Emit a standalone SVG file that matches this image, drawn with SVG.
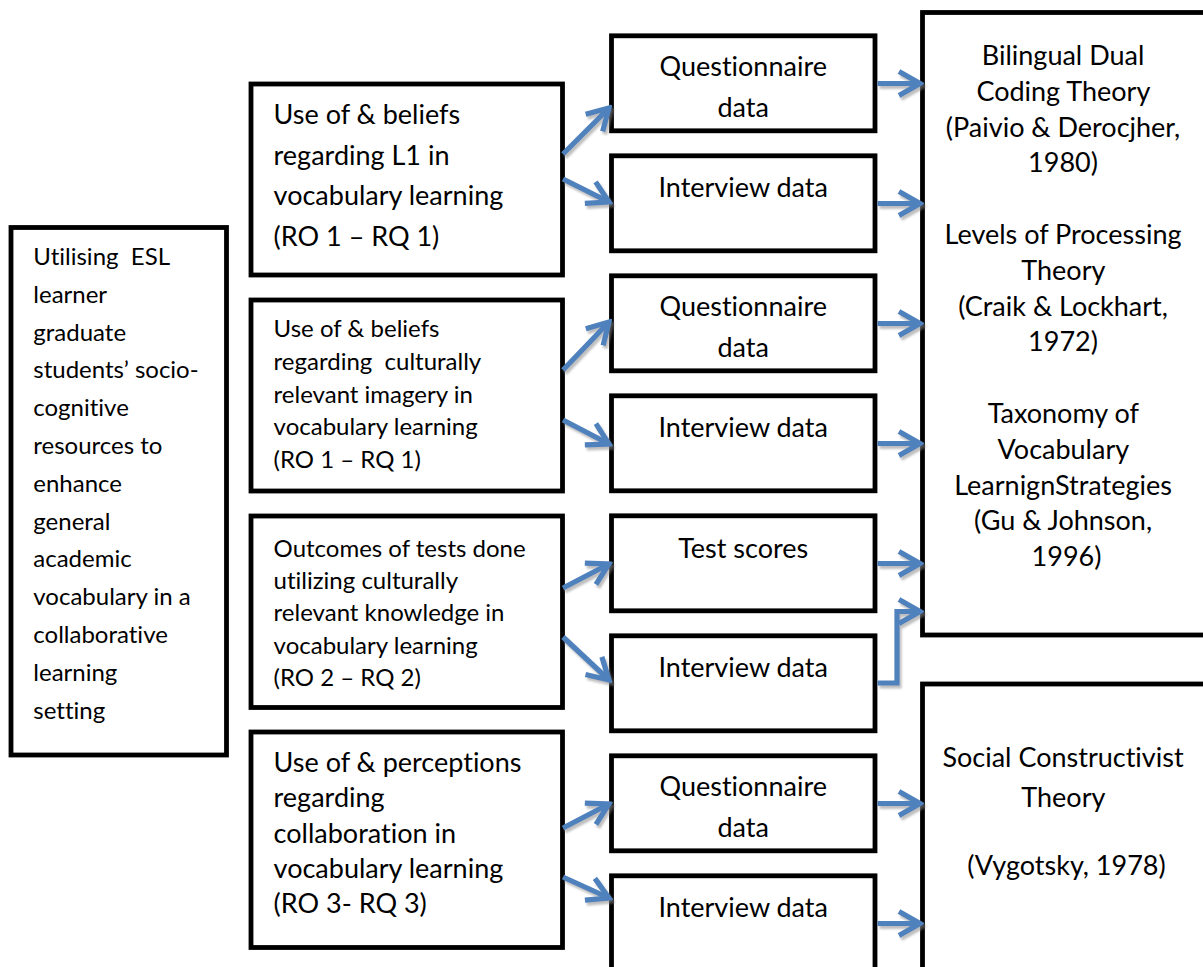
<svg xmlns="http://www.w3.org/2000/svg" width="1203" height="967" viewBox="0 0 1203 967">
<style>
.box{fill:#fff;stroke:#000;stroke-width:4.8}
.t{font-family:Lato,"Liberation Sans",sans-serif;fill:#000;font-variant-ligatures:none}
.f24{font-size:24px}
.f27{font-size:27px}
.c{text-anchor:middle}
.arr{fill:none;stroke:#4F81BD;stroke-width:5.2;marker-end:url(#ah)}
</style>
<defs>
<marker id="ah" viewBox="-26 -16 30 32" markerWidth="30" markerHeight="32" refX="0" refY="0" orient="auto" markerUnits="userSpaceOnUse">
<path d="M-21,-12 L0,0 L-21,12" fill="none" stroke="#4F81BD" stroke-width="5.2" stroke-linejoin="miter"/>
</marker>
<filter id="sh" x="-20%" y="-20%" width="140%" height="140%">
<feDropShadow dx="2" dy="3" stdDeviation="0.8" flood-color="#888" flood-opacity="0.55"/>
</filter>
</defs>
<rect width="1203" height="967" fill="#fff"/>

<g id="goal">
<rect class="box" x="11" y="227.5" width="215.5" height="527.5"/>
<text class="t f24" x="33.3">
<tspan x="33.3" y="265">Utilising&#160; ESL</tspan>
<tspan x="33.3" y="302.8">learner</tspan>
<tspan x="33.3" y="340.6">graduate</tspan>
<tspan x="33.3" y="378.4">students’ socio-</tspan>
<tspan x="33.3" y="416.2">cognitive</tspan>
<tspan x="33.3" y="454">resources to</tspan>
<tspan x="33.3" y="491.8">enhance</tspan>
<tspan x="33.3" y="529.6">general</tspan>
<tspan x="33.3" y="567.4">academic</tspan>
<tspan x="33.3" y="605.2">vocabulary in a</tspan>
<tspan x="33.3" y="643">collaborative</tspan>
<tspan x="33.3" y="680.8">learning</tspan>
<tspan x="33.3" y="718.6">setting</tspan>
</text>
</g>

<g id="ro1a">
<rect class="box" x="251" y="84" width="311.5" height="191"/>
<text class="t f27">
<tspan x="273.6" y="124">Use of &amp; beliefs</tspan>
<tspan x="273.6" y="164.7">regarding L1 in</tspan>
<tspan x="273.6" y="205.4">vocabulary learning</tspan>
<tspan x="273.6" y="246">(RO 1 – RQ 1)</tspan>
</text>
</g>

<g id="ro1b">
<rect class="box" x="251" y="300" width="311.5" height="191"/>
<text class="t f24">
<tspan x="273.6" y="337.3">Use of &amp; beliefs</tspan>
<tspan x="273.6" y="370">regarding&#160; culturally</tspan>
<tspan x="273.6" y="402.7">relevant imagery in</tspan>
<tspan x="273.6" y="435.4">vocabulary learning</tspan>
<tspan x="273.6" y="468">(RO 1 – RQ 1)</tspan>
</text>
</g>

<g id="ro2">
<rect class="box" x="251" y="516" width="311.5" height="191.5"/>
<text class="t f24">
<tspan x="273.6" y="556.7">Outcomes of tests done</tspan>
<tspan x="273.6" y="589">utilizing culturally</tspan>
<tspan x="273.6" y="621.3">relevant knowledge in</tspan>
<tspan x="273.6" y="653.6">vocabulary learning</tspan>
<tspan x="273.6" y="686">(RO 2 – RQ 2)</tspan>
</text>
</g>

<g id="ro3">
<rect class="box" x="251" y="732" width="311.5" height="215.5"/>
<text class="t f27">
<tspan x="273.6" y="771.7">Use of &amp; perceptions</tspan>
<tspan x="273.6" y="807.1">regarding</tspan>
<tspan x="273.6" y="842.5">collaboration in</tspan>
<tspan x="273.6" y="877.9">vocabulary learning</tspan>
<tspan x="273.6" y="913.3">(RO 3- RQ 3)</tspan>
</text>
</g>

<g id="q1">
<rect class="box" x="611.5" y="35.8" width="263.5" height="95"/>
<text class="t f27 c"><tspan x="743.2" y="76.3">Questionnaire</tspan><tspan x="743.2" y="116.8">data</tspan></text>
</g>
<g id="i1">
<rect class="box" x="611.5" y="155.8" width="263.5" height="95"/>
<text class="t f27 c" x="743.2" y="196.5">Interview data</text>
</g>
<g id="q2">
<rect class="box" x="611.5" y="275.8" width="263.5" height="95"/>
<text class="t f27 c"><tspan x="743.2" y="316.3">Questionnaire</tspan><tspan x="743.2" y="356.8">data</tspan></text>
</g>
<g id="i2">
<rect class="box" x="611.5" y="395.8" width="263.5" height="95"/>
<text class="t f27 c" x="743.2" y="436.5">Interview data</text>
</g>
<g id="ts">
<rect class="box" x="611.5" y="515.8" width="263.5" height="95"/>
<text class="t f27 c" x="743.2" y="557.5">Test scores</text>
</g>
<g id="i3">
<rect class="box" x="611.5" y="635.8" width="263.5" height="95"/>
<text class="t f27 c" x="743.2" y="676.5">Interview data</text>
</g>
<g id="q4">
<rect class="box" x="611.5" y="755.8" width="263.5" height="95"/>
<text class="t f27 c"><tspan x="743.2" y="796.3">Questionnaire</tspan><tspan x="743.2" y="836.8">data</tspan></text>
</g>
<g id="i4">
<rect class="box" x="611.5" y="875.8" width="263.5" height="120"/>
<text class="t f27 c" x="743.2" y="916.5">Interview data</text>
</g>

<g id="theories1">
<rect class="box" x="922.5" y="12.5" width="290" height="622.5"/>
<text class="t f27 c">
<tspan x="1066.5" y="65">Bilingual Dual</tspan>
<tspan x="1066.5" y="100.8">Coding Theory</tspan>
<tspan x="1066.5" y="136.6">(Paivio &amp; Derocjher,</tspan>
<tspan x="1066.5" y="172.4">1980)</tspan>
<tspan x="1066.5" y="244">Levels of Processing</tspan>
<tspan x="1066.5" y="279.8">Theory</tspan>
<tspan x="1066.5" y="315.6">(Craik &amp; Lockhart,</tspan>
<tspan x="1066.5" y="351.4">1972)</tspan>
<tspan x="1066.5" y="423">Taxonomy of</tspan>
<tspan x="1066.5" y="458.8">Vocabulary</tspan>
<tspan x="1066.5" y="494.6">LearnignStrategies</tspan>
<tspan x="1066.5" y="530.4">(Gu &amp; Johnson,</tspan>
<tspan x="1066.5" y="566.2">1996)</tspan>
</text>
</g>

<g id="theories2">
<rect class="box" x="922.5" y="684" width="290" height="320"/>
<text class="t f27 c">
<tspan x="1066.5" y="767">Social Constructivist</tspan>
<tspan x="1066.5" y="807">Theory</tspan>
<tspan x="1066.5" y="875">(Vygotsky, 1978)</tspan>
</text>
</g>

<g id="connectors" filter="url(#sh)">
<path class="arr" d="M563,154 L609,108"/>
<path class="arr" d="M563,179 L609,202"/>
<path class="arr" d="M563,370 L609,322"/>
<path class="arr" d="M563,420 L609,444"/>
<path class="arr" d="M563,588 L609,564"/>
<path class="arr" d="M563,637 L609,680"/>
<path class="arr" d="M563,828 L609,804"/>
<path class="arr" d="M563,877 L609,898"/>
<path class="arr" d="M877.5,83.5 H920"/>
<path class="arr" d="M877.5,203.5 H920"/>
<path class="arr" d="M877.5,323.5 H920"/>
<path class="arr" d="M877.5,443.5 H920"/>
<path class="arr" d="M877.5,563.5 H920"/>
<path class="arr" d="M877.5,683 H897 V611.5 H920"/>
<path class="arr" d="M877.5,803.5 H920"/>
<path class="arr" d="M877.5,923.5 H920"/>
</g>
</svg>
